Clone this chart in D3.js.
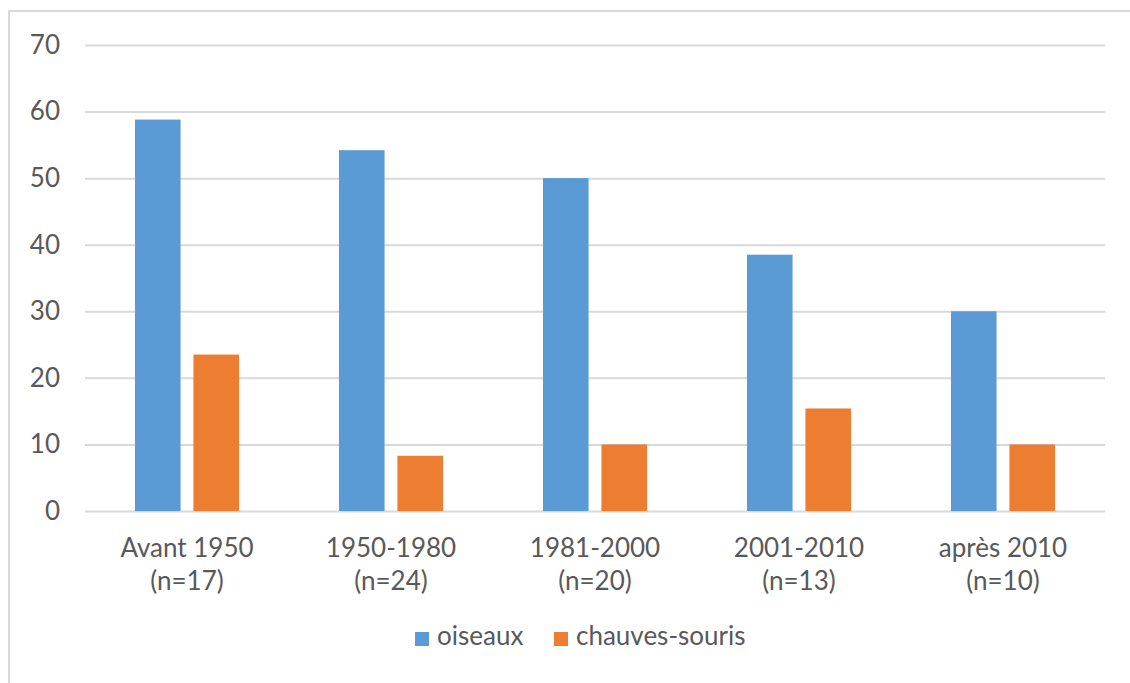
<!DOCTYPE html>
<html><head><meta charset="utf-8">
<script src="https://cdn.jsdelivr.net/npm/d3@7"></script>
<style>html,body{margin:0;padding:0;background:#fff;}svg{display:block;}</style>
</head><body>
<svg id="c" width="1130" height="683"></svg>
<script>
const categories = ["Avant 1950", "1950-1980", "1981-2000", "2001-2010", "après 2010"];
const sampleSizes = ["(n=17)", "(n=24)", "(n=20)", "(n=13)", "(n=10)"];
const seriesNames = ["oiseaux", "chauves-souris"];
const oiseaux = [58.8, 54.2, 50.0, 38.5, 30.0];
const chauvesSouris = [23.5, 8.3, 10.0, 15.4, 10.0];
const yTicks = [0, 10, 20, 30, 40, 50, 60, 70];
const colors = ["#5B9BD5", "#ED7D31"];

(function () {
const series = [oiseaux, chauvesSouris];
const svg = d3.select("#c");
const font = "Lato, 'Open Sans', sans-serif";
const fs = "26px";
const textColor = "#595959";

// outer border
svg.append("path").attr("d", "M9,690 V11 H1140").attr("fill", "none")
  .attr("stroke", "#d9d9d9").attr("stroke-width", 2);

const mLeft = 85, mRight = 1105, mTop = 45, mBottom = 511;
const x0 = d3.scaleBand().domain(categories).range([mLeft, mRight]).paddingInner(0.49).paddingOuter(0.245);
const x1 = d3.scaleBand().domain(seriesNames).range([0, x0.bandwidth()]).paddingInner(0.22);
const y = d3.scaleLinear().domain([0, 70]).range([mBottom, mTop]);

// grid
const yAxis = d3.axisLeft(y).tickValues(yTicks).tickSize(-(mRight - mLeft)).tickPadding(25);
const gy = svg.append("g").attr("transform", `translate(${mLeft},0)`).call(yAxis);
gy.select(".domain").remove();
gy.selectAll(".tick line").attr("stroke", "#d9d9d9").attr("stroke-width", 2);
gy.selectAll(".tick text").attr("fill", textColor).style("font-family", font).style("font-size", fs);

// bars
const groups = svg.append("g").selectAll("g").data(categories).join("g")
  .attr("transform", d => `translate(${x0(d)},0)`);
groups.selectAll("rect").data((d, i) => seriesNames.map((s, j) => ({s, v: series[j][i], j})))
  .join("rect")
  .attr("x", d => x1(d.s)).attr("width", x1.bandwidth())
  .attr("y", d => y(d.v)).attr("height", d => y(0) - y(d.v))
  .attr("fill", d => colors[d.j]);

// x axis labels
const xAxis = d3.axisBottom(x0).tickSize(0).tickPadding(0);
const gx = svg.append("g").attr("transform", `translate(0,${mBottom})`).call(xAxis);
gx.select(".domain").remove();
gx.selectAll(".tick text").each(function(d, i) {
  const t = d3.select(this);
  t.text(null).attr("y", 0).attr("dy", null).attr("fill", textColor)
    .style("font-family", font).style("font-size", fs);
  t.append("tspan").attr("x", 0).attr("y", 46).text(d);
  t.append("tspan").attr("x", 0).attr("y", 79).text(sampleSizes[i]);
});

// legend
const legendItems = [{name: seriesNames[0], x: 415}, {name: seriesNames[1], x: 554}];
const lg = svg.append("g");
legendItems.forEach((it, i) => {
  lg.append("rect").attr("x", it.x).attr("y", 632).attr("width", 14).attr("height", 14).attr("fill", colors[i]);
  lg.append("text").attr("x", it.x + 22).attr("y", 645).attr("fill", textColor)
    .style("font-family", font).style("font-size", fs).text(it.name);
});
})();
</script>
</body></html>
